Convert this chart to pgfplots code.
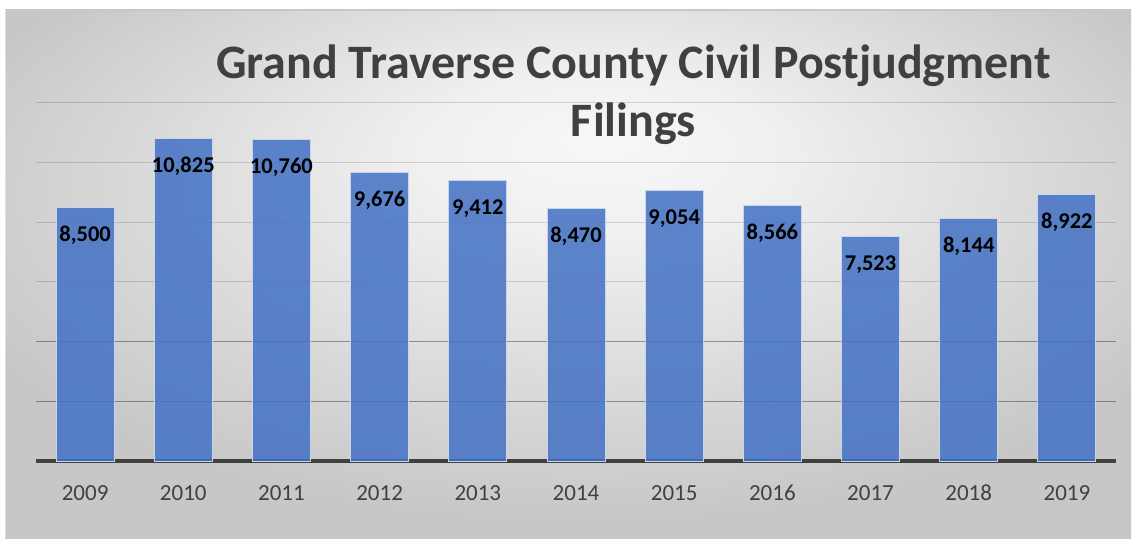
\documentclass[border=0pt]{standalone}
\usepackage{fontspec}
\setmainfont{Carlito}
\usepackage{pgfplots}
\pgfplotsset{compat=1.18}
\definecolor{barc}{HTML}{4472C4}
\definecolor{txt}{HTML}{404040}
\pgfdeclareradialshading{bgshade}{\pgfpoint{1.5bp}{13bp}}{color(0bp)=(white!97!black); color(8bp)=(white!94!black); color(30bp)=(white!78!black); color(60bp)=(white!78!black)}
\begin{document}
\begin{tikzpicture}[x=1pt,y=1pt]
\fill[white] (0,0) rectangle (1134,538);
\shade[shading=bgshade] (5,0) rectangle (1131,528);
\draw[black!22, line width=1.2pt] (5,528) -- (1131,528);
\draw[black!12, line width=0.8pt] (5,0) -- (5,528);
\begin{axis}[
  at={(36pt,77pt)}, anchor=south west,
  scale only axis, width=1080pt, height=358pt,
  xmin=-0.5, xmax=10.5, ymin=0, ymax=12000,
  scaled y ticks=false,
  xtick={0,...,10},
  xticklabels={2009,2010,2011,2012,2013,2014,2015,2016,2017,2018,2019},
  ytick={6000,8000,10000,12000},
  extra y ticks={2000,4000},
  yticklabels={}, extra y tick labels={},
  ymajorgrids,
  grid style={black, opacity=0.14, line width=1pt},
  extra y tick style={grid style={black, opacity=0.36, line width=1pt}},
  axis x line*=bottom, axis y line*=left,
  y axis line style={draw=none},
  tick style={draw=none},
  x axis line style={line width=4pt, txt, -},
  xticklabel style={font=\fontsize{23}{27}\selectfont, text=txt, anchor=base, yshift=-39pt},
  /pgf/number format/.cd, fixed, precision=0, 1000 sep={,}, assume math mode=true,
]
\addplot[ybar, bar width=58pt, fill=barc, fill opacity=0.86,
  draw=white!70!barc, line width=1pt,
  nodes near coords,
  every node near coord/.append style={anchor=base, yshift=-34pt, text=black,
    text opacity=1, fill opacity=1, font=\fontsize{22.5}{27}\selectfont\bfseries}]
coordinates {(0,8500) (1,10825) (2,10760) (3,9676) (4,9412) (5,8470) (6,9054) (7,8566) (8,7523) (9,8144) (10,8922)};
\end{axis}
\node[anchor=base, font=\fontsize{48}{57}\selectfont\bfseries, text=txt] at (633.5,459) {Grand Traverse County Civil Postjudgment};
\node[anchor=base, font=\fontsize{48}{57}\selectfont\bfseries, text=txt] at (633.5,401) {Filings};
\end{tikzpicture}
\end{document}
